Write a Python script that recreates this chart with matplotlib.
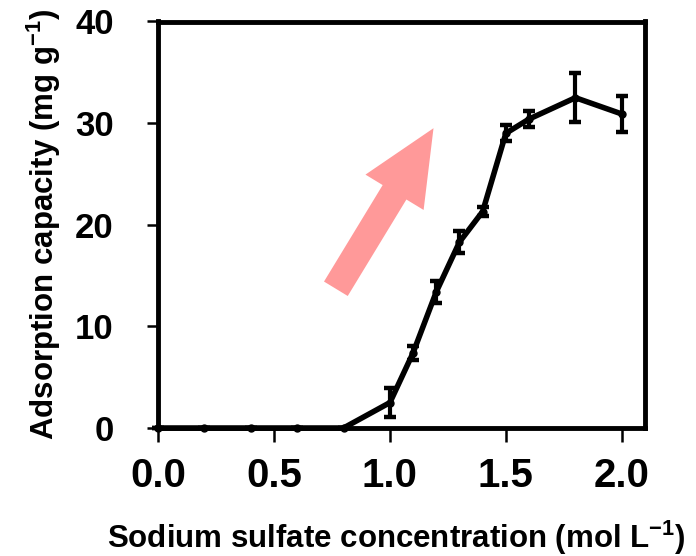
import matplotlib
matplotlib.use("Agg")
import matplotlib.pyplot as plt

plt.rcParams['font.family'] = ['Liberation Sans', 'DejaVu Sans']
plt.rcParams['font.weight'] = 'bold'
plt.rcParams['mathtext.fontset'] = 'custom'
plt.rcParams['mathtext.bf'] = 'Liberation Sans:bold'
plt.rcParams['mathtext.rm'] = 'Liberation Sans:bold'

# Data
conc = [0.0, 0.2, 0.4, 0.6, 0.8, 1.0, 1.1, 1.2, 1.3, 1.4, 1.5, 1.6, 1.8, 2.0]
capacity = [0.0, 0.0, 0.0, 0.0, 0.0, 2.5, 7.4, 13.4, 18.3, 21.3, 29.0, 30.4, 32.5, 30.9]
errors = [0.0, 0.0, 0.0, 0.0, 0.0, 1.4, 0.7, 1.1, 1.1, 0.4, 0.8, 0.8, 2.4, 1.8]
xticks = [0.0, 0.5, 1.0, 1.5, 2.0]
xticklabels = ["0.0", "0.5", "1.0", "1.5", "2.0"]
yticks = [0, 10, 20, 30, 40]
arrow_tail = (0.767, 13.7)
arrow_tip = (1.188, 29.5)

fig = plt.figure(figsize=(6.96, 5.56), dpi=100)
ax = fig.add_axes([158/696, (556-428)/556, (645-158)/696, (428-21.5)/556])

ax.errorbar(conc, capacity, yerr=errors, color='black', lw=4.0,
            marker='o', ms=5, elinewidth=3.0, capsize=4.5, capthick=3.2,
            clip_on=False, zorder=3)

ax.annotate('', xy=arrow_tip, xytext=arrow_tail,
            arrowprops=dict(arrowstyle='simple,head_length=54,head_width=49,tail_width=20',
                            mutation_scale=1, color='#ff9999', lw=0,
                            shrinkA=0, shrinkB=0))

ax.set_xlim(0, 2.1)
ax.set_ylim(0, 40)
ax.set_xticks(xticks)
ax.set_xticklabels(xticklabels)
ax.set_yticks(yticks)
for s in ax.spines.values():
    s.set_linewidth(3.5)
ax.tick_params(axis='both', direction='out', width=1.8)
ax.tick_params(axis='x', labelsize=29, length=10, pad=11)
ax.tick_params(axis='y', labelsize=25, length=8, pad=24)
for lab in ax.get_xticklabels() + ax.get_yticklabels():
    lab.set_fontweight('bold')

ax.set_xlabel(r'Sodium sulfate concentration (mol L$\mathbf{^{-1}}$)', fontsize=22.5,
              fontweight='bold', va='top')
ax.set_ylabel(r'Adsorption capacity (mg g$\mathbf{^{-1}}$)', fontsize=22.5,
              fontweight='bold')
ax.xaxis.set_label_coords(0.49, -0.224)
ax.yaxis.set_label_coords(-0.195, 0.5)

fig.savefig('out.png', dpi=100)
